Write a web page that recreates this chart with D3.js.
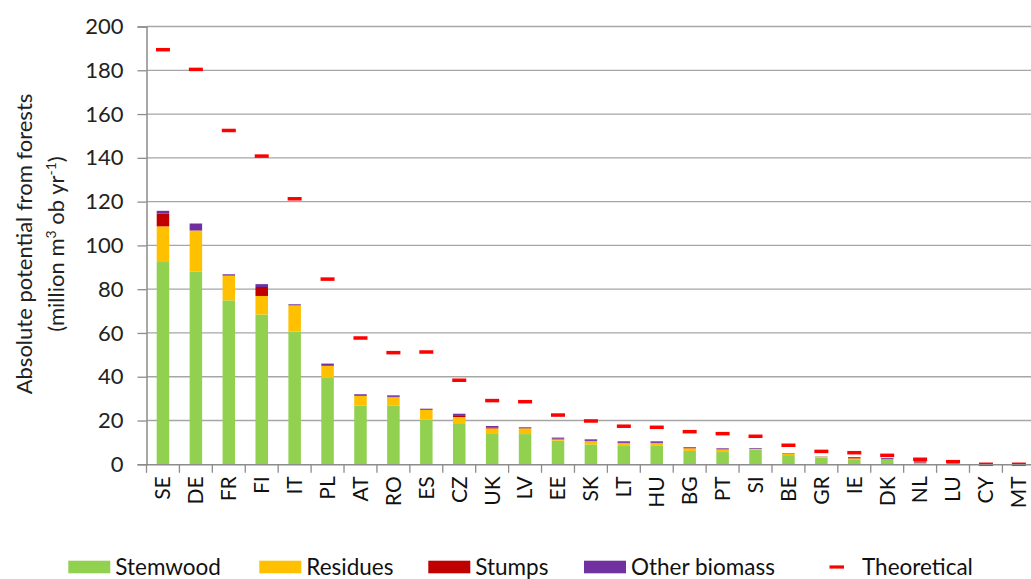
<!DOCTYPE html>
<html>
<head>
<meta charset="utf-8">
<script src="https://cdn.jsdelivr.net/npm/d3@7/dist/d3.min.js"></script>
<style>
  html, body { margin: 0; padding: 0; background: #fff; }
  svg { display: block; font-family: Lato, "Open Sans", sans-serif; }
</style>
</head>
<body>
<svg id="chart" width="1031" height="579"></svg>
<script>
const countries = ["SE","DE","FR","FI","IT","PL","AT","RO","ES","CZ","UK","LV","EE","SK","LT","HU","BG","PT","SI","BE","GR","IE","DK","NL","LU","CY","MT"];
const stemwood = [92.4,88.1,74.9,68.4,60.6,39.6,26.9,26.9,20.4,18.4,14.2,13.8,10.8,9.1,8.4,8.4,6.1,5.6,6.7,4.2,3.1,2.3,2.0,0.5,0.3,0,0];
const residues = [16.3,18.7,11.3,8.5,12.0,5.3,4.3,3.8,4.4,3.2,2.2,2.6,0.6,1.5,1.3,1.3,1.2,1.2,0.3,0.5,0.4,0.4,0.3,0.2,0.1,0,0];
const stumps   = [5.8,0,0,4.1,0,0.3,0.1,0.1,0.1,0.5,0.3,0.1,0.3,0.1,0.1,0.1,0.1,0.1,0.1,0.1,0,0.2,0.2,0.2,0,0,0];
const otherBiomass = [1.3,3.2,0.6,1.3,0.5,0.8,0.7,0.7,0.5,1.0,0.8,0.4,0.5,0.7,0.7,0.7,0.4,0.4,0.3,0.2,0.1,0.4,0.4,0.5,0.1,0,0];
const theoretical = [189.4,180.4,152.5,140.8,121.3,84.6,57.7,51.0,51.3,38.4,29.1,28.6,22.5,19.8,17.4,16.9,14.9,14.0,12.8,8.7,5.9,5.3,4.1,2.3,1.2,0,0];
const yTicks = [0,20,40,60,80,100,120,140,160,180,200];
const seriesNames = ["Stemwood","Residues","Stumps","Other biomass"];
const seriesColors = ["#92d050","#ffc000","#c00000","#7030a0"];
const theoColor = "#ff0000";

const table = countries.map((c, i) => ({
  country: c,
  "Stemwood": stemwood[i],
  "Residues": residues[i],
  "Stumps": stumps[i],
  "Other biomass": otherBiomass[i]
}));

const svg = d3.select("#chart");
const plotLeft = 146.5, plotTop = 26.5, plotBottom = 464.3;
const step = 32.92;
const x = d3.scaleBand().domain(countries).range([plotLeft, plotLeft + step * countries.length]).padding(0);
const y = d3.scaleLinear().domain([0, 200]).range([plotBottom, plotTop]);

const plotRight = x.range()[1];

// gridlines
svg.append("g").selectAll("line").data(yTicks.filter(d => d > 0)).join("line")
  .attr("x1", plotLeft).attr("x2", plotRight)
  .attr("y1", d => y(d)).attr("y2", d => y(d))
  .attr("stroke", "#a6a6a6").attr("stroke-width", 1.3);

// stacked bars
const stack = d3.stack().keys(seriesNames);
const stacked = stack(table);
const barW = x.bandwidth() * 0.38;
svg.append("g").selectAll("g").data(stacked).join("g")
  .attr("fill", (d, i) => seriesColors[i])
  .selectAll("rect").data(d => d).join("rect")
  .attr("x", d => x(d.data.country) + (x.bandwidth() - barW) / 2)
  .attr("width", barW)
  .attr("y", d => y(d[1]))
  .attr("height", d => Math.max(0, y(d[0]) - y(d[1])));

// theoretical dashes
const dashW = 14, dashH = 3.5;
svg.append("g").selectAll("rect").data(countries).join("rect")
  .attr("x", (c) => x(c) + x.bandwidth() / 2 - dashW / 2)
  .attr("y", (c, i) => y(theoretical[i]) - dashH / 2)
  .attr("width", dashW).attr("height", dashH)
  .attr("fill", theoColor);

// y axis
const yAxis = svg.append("g").attr("transform", `translate(${plotLeft},0)`)
  .call(d3.axisLeft(y).tickValues(yTicks).tickSize(9).tickPadding(14).tickFormat(d3.format("d")));
yAxis.select(".domain").attr("stroke", "#8c8c8c").attr("stroke-width", 1.5);
yAxis.selectAll(".tick line").attr("stroke", "#8c8c8c").attr("stroke-width", 1.3);
yAxis.selectAll(".tick text").attr("font-size", 22).attr("fill", "#222").attr("font-family", "Lato, sans-serif");

// x axis
const xAxis = svg.append("g").attr("transform", `translate(0,${plotBottom})`)
  .call(d3.axisBottom(x).tickSize(0).tickPadding(12));
xAxis.select(".domain").attr("stroke", "#8c8c8c").attr("stroke-width", 1.5);
xAxis.selectAll(".tick text")
  .attr("font-size", 21).attr("fill", "#111").attr("font-family", "Lato, sans-serif")
  .attr("transform", "rotate(-90)")
  .attr("text-anchor", "end")
  .attr("x", -12).attr("y", 0).attr("dy", "0.35em");
// boundary ticks
svg.append("g").selectAll("line").data(countries.concat(["__end"])).join("line")
  .attr("x1", c => c === "__end" ? plotRight : x(c))
  .attr("x2", c => c === "__end" ? plotRight : x(c))
  .attr("y1", plotBottom).attr("y2", plotBottom + 8.5)
  .attr("stroke", "#8c8c8c").attr("stroke-width", 1.3);

// y axis title
const title = svg.append("text")
  .attr("transform", "translate(32,244) rotate(-90)")
  .attr("text-anchor", "middle")
  .attr("font-size", 22).attr("fill", "#222");
title.append("tspan").attr("x", 0).attr("dy", 0).text("Absolute potential from forests");
const l2 = svg.append("text")
  .attr("transform", "translate(64,244) rotate(-90)")
  .attr("text-anchor", "middle")
  .attr("font-size", 22).attr("fill", "#222");
l2.append("tspan").text("(million m");
l2.append("tspan").attr("dy", -8).attr("font-size", 14).text("3");
l2.append("tspan").attr("dy", 8).text(" ob yr");
l2.append("tspan").attr("dy", -8).attr("font-size", 14).text("-1");
l2.append("tspan").attr("dy", 8).text(")");

// legend
const legendX = [68.3, 259.3, 428.3, 584];
const legendY = 567;
const lg = svg.append("g");
seriesNames.forEach((name, i) => {
  lg.append("rect").attr("x", legendX[i]).attr("y", legendY - 6.3)
    .attr("width", 42).attr("height", 12.6).attr("fill", seriesColors[i]);
  lg.append("text").attr("x", legendX[i] + 47).attr("y", legendY).attr("dy", "0.35em")
    .attr("font-size", 22.5).attr("fill", "#111").text(name);
});
lg.append("rect").attr("x", 829.5).attr("y", legendY - 1.6).attr("width", 14.5).attr("height", 3.2).attr("fill", theoColor);
lg.append("text").attr("x", 862).attr("y", legendY).attr("dy", "0.35em")
  .attr("font-size", 22.5).attr("fill", "#111").text("Theoretical");
</script>
</body>
</html>
